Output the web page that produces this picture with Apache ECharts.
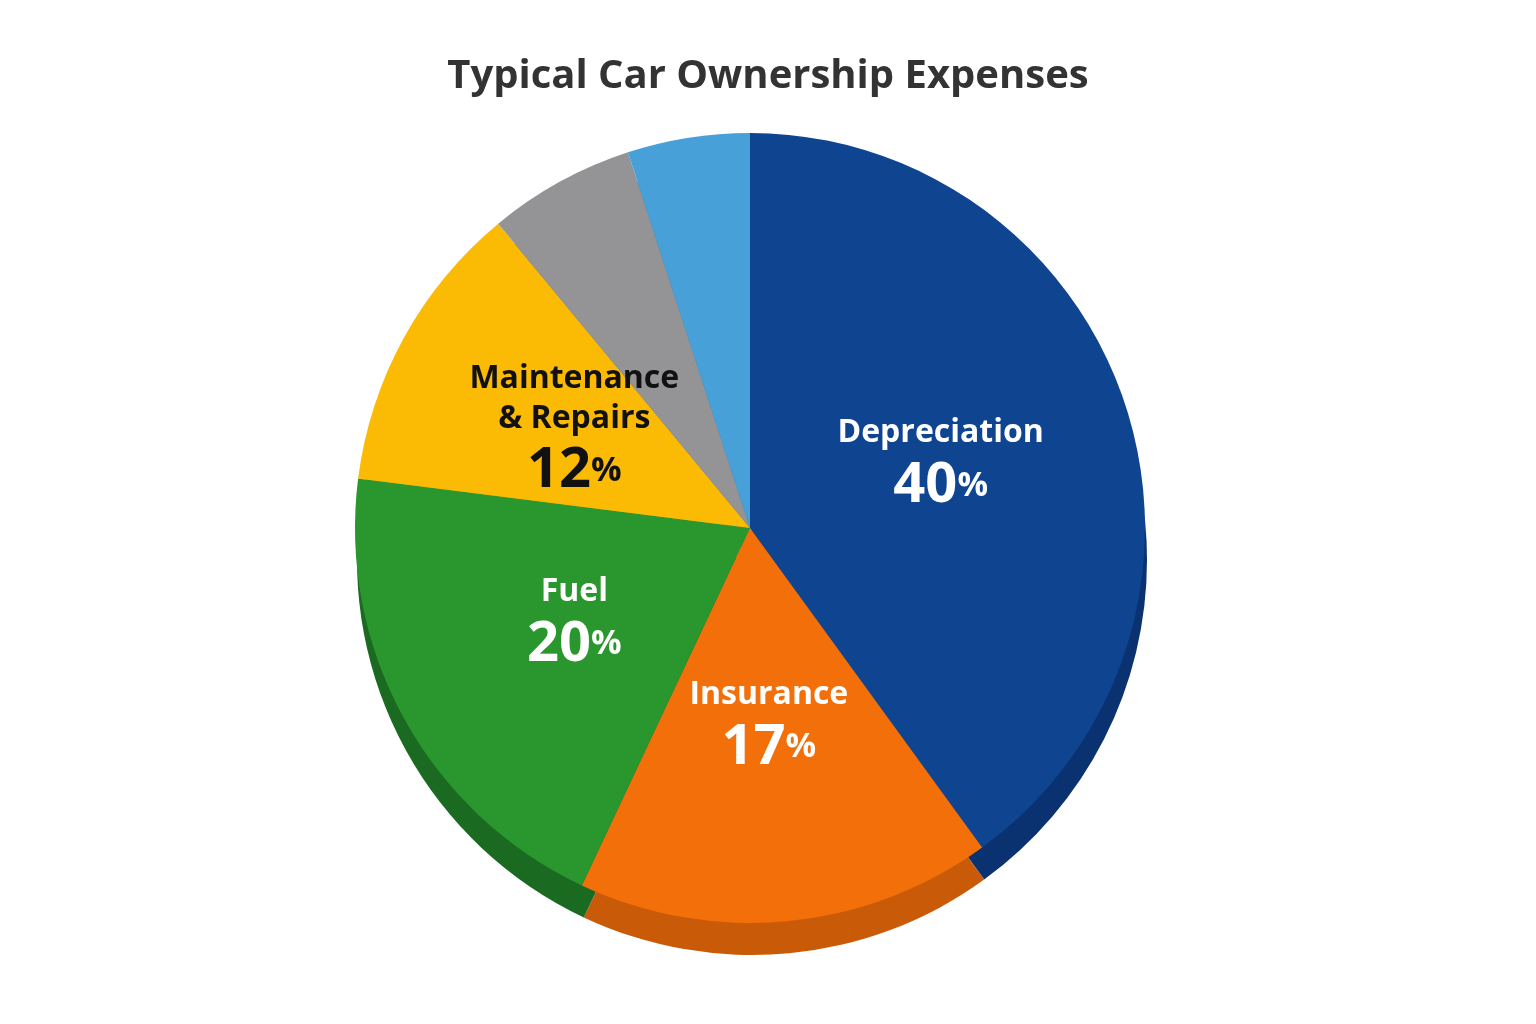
<!DOCTYPE html>
<html><head><meta charset="utf-8">
<script src="https://cdn.jsdelivr.net/npm/echarts@6/dist/echarts.min.js"></script>
<style>html,body{margin:0;background:#fff}#c{width:1536px;height:1024px}</style>
</head><body><div id="c"></div>
<script>
const categories = ['Depreciation', 'Insurance', 'Fuel', 'Maintenance\n& Repairs', 'Registration\n& Fees', 'Financing\ncosts'];
const values = [40, 17, 20, 12, 6, 5];
const colors = ['#0f4491', '#f26f0a', '#2a962e', '#fbbb05', '#949395', '#47a0d8'];
const darkColors = ['#0a3270', '#c85a08', '#1a6a22', '#d69e05', '#6f6e70', '#2f7db0'];
const labelColors = ['#ffffff', '#ffffff', '#ffffff', '#111111', '#111111', '#ffffff'];
const chart = echarts.init(document.getElementById('c'));
const font = '"Open Sans", "Noto Sans", sans-serif';
function richFor(c) {
  return {
    n: { fontSize: 32, fontWeight: 'bold', fontFamily: font, lineHeight: 40, color: c },
    v: { fontSize: 56, fontWeight: 'bold', fontFamily: font, lineHeight: 66, color: c },
    p: { fontSize: 34, fontWeight: 'bold', fontFamily: font, lineHeight: 66, color: c }
  };
}
chart.setOption({
  title: { text: 'Typical Car Ownership Expenses', left: 'center', top: 52,
    textStyle: { fontFamily: font, fontSize: 40, fontWeight: 'bold', color: '#333' } },
  series: [
    { type: 'pie', radius: 395, center: [752, 560], startAngle: 90, silent: true,
      label: { show: false }, labelLine: { show: false },
      data: values.map((v, i) => ({ value: v, name: categories[i], itemStyle: { color: darkColors[i] } })) },
    { type: 'pie', radius: 395, center: [750, 528], startAngle: 90, avoidLabelOverlap: false,
      itemStyle: { borderWidth: 0 },
      labelLine: { show: false },
      data: values.map((v, i) => ({ value: v, name: categories[i], itemStyle: { color: colors[i] },
        label: { rich: richFor(labelColors[i]) } })),
      label: { show: true, position: 'inside', fontFamily: font, lineHeight: 40,
        formatter: p => '{n|' + p.name.split('\n').join('}\n{n|') + '}\n{v|' + p.value + '}{p|%}' } }
  ]
});
</script></body></html>
